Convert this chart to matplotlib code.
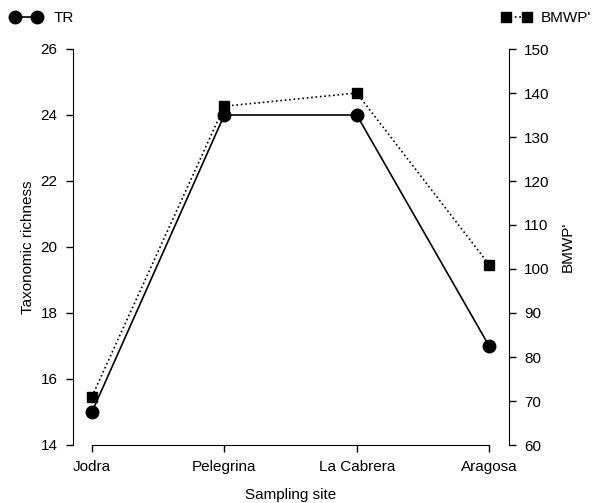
import matplotlib
matplotlib.use("Agg")
import matplotlib.pyplot as plt
from matplotlib.lines import Line2D

plt.rcParams['font.family'] = ['Liberation Sans', 'DejaVu Sans']

sites = ["Jodra", "Pelegrina", "La Cabrera", "Aragosa"]
tr = [15, 24, 24, 17]
bmwp = [71, 137, 140, 101]
left_ticks = [14, 16, 18, 20, 22, 24, 26]
right_ticks = [60, 70, 80, 90, 100, 110, 120, 130, 140, 150]

W, H = 595, 503
FS = 11
fig = plt.figure(figsize=(W/100, H/100), dpi=100)
ax = fig.add_axes([73/W, 1-445/H, (509-73)/W, (445-49)/H])
x = list(range(len(sites)))

ax.plot(x, tr, '-', color='black', lw=1.2, marker='o', ms=9, zorder=3)
ax.set_ylim(14, 26)
ax.set_yticks(left_ticks)
ax.set_xlim(-0.143, 3.15)
ax.set_xticks(x)
ax.set_xticklabels(sites, fontsize=FS)
ax.tick_params(axis='both', labelsize=FS, direction='out', length=5, width=1, pad=6)
ax.spines['top'].set_visible(False)
ax.spines['right'].set_visible(False)
ax.spines['bottom'].set_bounds(0, 3)
ax.set_ylabel("Taxonomic richness", fontsize=FS, labelpad=4)
ax.set_xlabel("Sampling site", fontsize=FS, labelpad=10)

ax2 = ax.twinx()
ax2.plot(x, bmwp, ':', color='black', lw=1.2, marker='s', ms=7, zorder=3)
ax2.set_ylim(60, 150)
ax2.set_yticks(right_ticks)
ax2.tick_params(axis='y', labelsize=FS, direction='out', length=5, width=1, pad=6)
for s in ['top', 'left', 'bottom']:
    ax2.spines[s].set_visible(False)
ax2.set_ylabel("BMWP'", fontsize=FS, labelpad=8)

h1 = Line2D([], [], color='black', lw=1.2, marker='o', ms=9)
h2 = Line2D([], [], color='black', lw=1.2, ls=':', marker='s', ms=7)
fig.legend([h1], ["TR"], loc='center left', bbox_to_anchor=(6/W, 1-18/H),
           frameon=False, fontsize=FS, numpoints=2, handlelength=2.0,
           handletextpad=0.8, borderaxespad=0, borderpad=0.3)
fig.legend([h2], ["BMWP'"], loc='center right', bbox_to_anchor=(593/W, 1-18/H),
           frameon=False, fontsize=FS, numpoints=2, handlelength=2.0,
           handletextpad=0.6, borderaxespad=0, borderpad=0.1)

fig.savefig("out.png", dpi=100)
